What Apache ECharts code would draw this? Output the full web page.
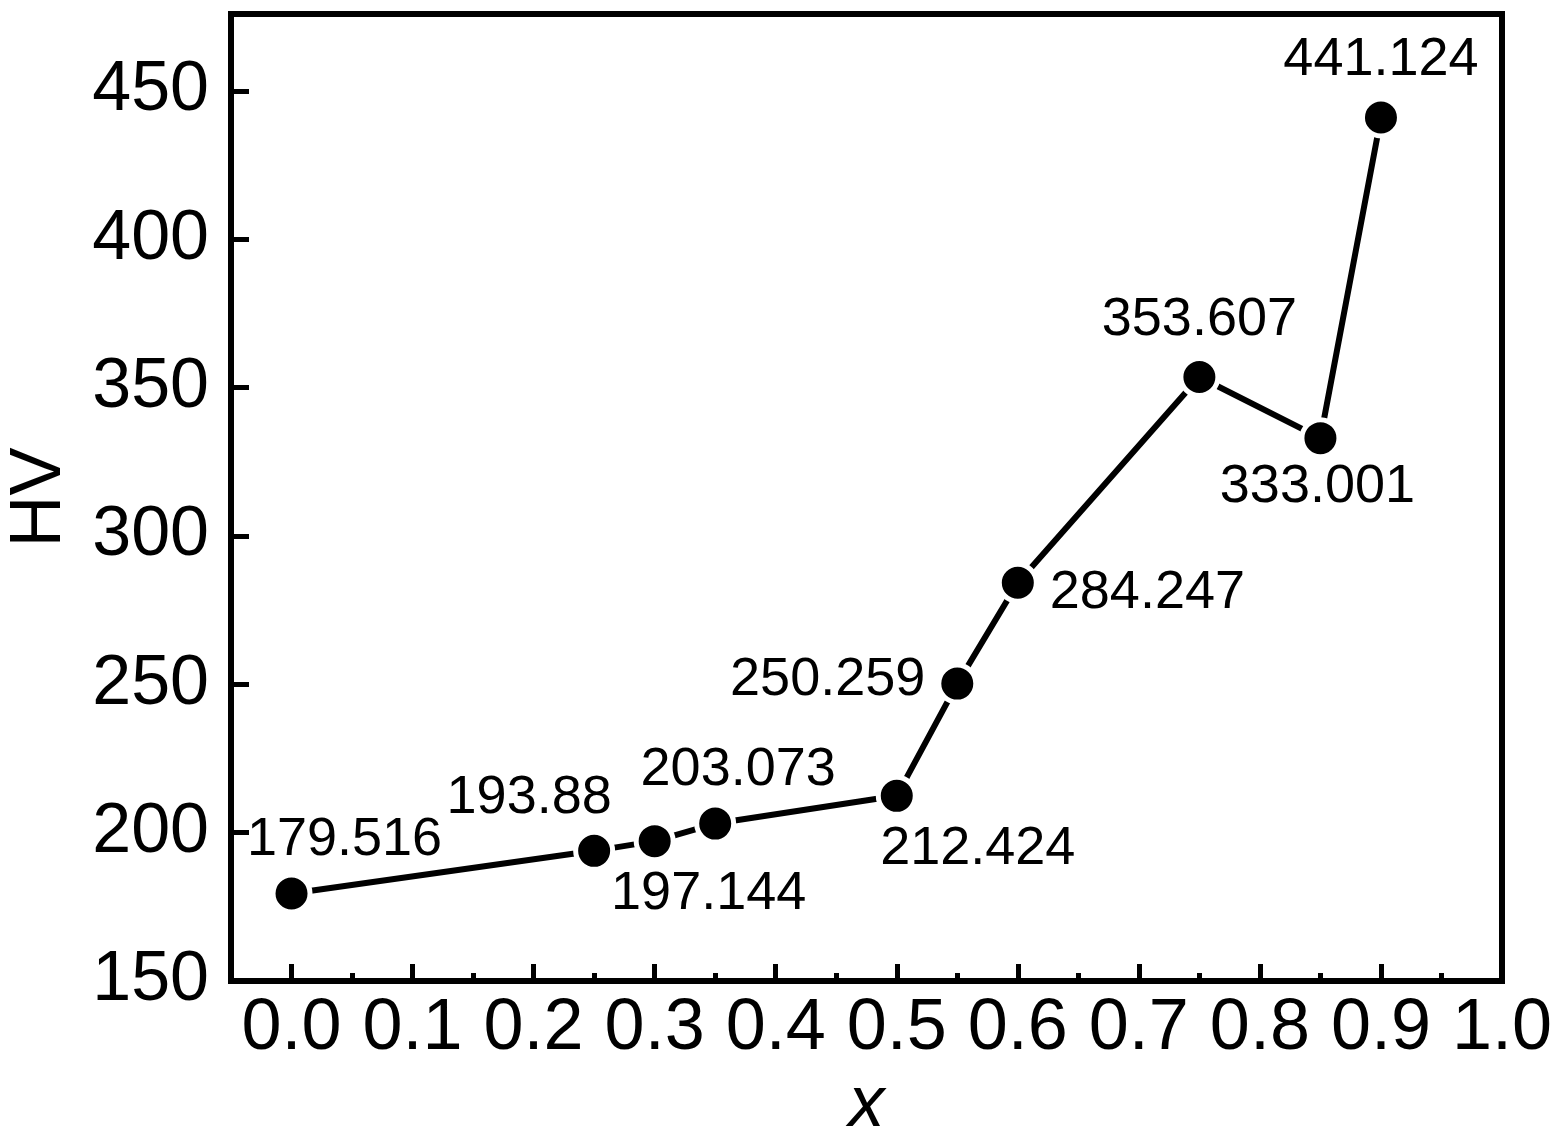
<!DOCTYPE html>
<html>
<head>
<meta charset="utf-8">
<title>HV vs x</title>
<script src="https://cdn.jsdelivr.net/npm/echarts@6/dist/echarts.min.js"></script>
<style>
  html, body { margin: 0; padding: 0; background: #fff; }
  #chart { width: 1560px; height: 1142px; }
</style>
</head>
<body>
<div id="chart"></div>
<script>
// data
var xValues = [0, 0.25, 0.3, 0.35, 0.5, 0.55, 0.6, 0.75, 0.85, 0.9]
var hvValues = [179.516, 193.88, 197.144, 203.073, 212.424, 250.259, 284.247, 353.607, 333.001, 441.124]
var xTicks = [0, 0.1, 0.2, 0.3, 0.4, 0.5, 0.6, 0.7, 0.8, 0.9, 1.0]
var xMinorTicks = [0.05, 0.15, 0.25, 0.35, 0.45, 0.55, 0.65, 0.75, 0.85, 0.95]
var yTicks = [150, 200, 250, 300, 350, 400, 450]

// where each value label sits around its point
var labelPlace = [
  { position: 'top', offset: [53, 0] },
  { position: 'top', offset: [-65, 0] },
  { position: 'bottom', offset: [54, 0] },
  { position: 'top', offset: [23, 0] },
  { position: 'bottom', offset: [81, 0] },
  { position: 'left', offset: [-6, -3] },
  { position: 'right', offset: [6, 10] },
  { position: 'top', offset: [0, -4] },
  { position: 'bottom', offset: [-3, -4] },
  { position: 'top', offset: [0, -4] }
]

var font = '"Liberation Sans", Arial, sans-serif'

var seriesData = xValues.map(function(x, i) {
  return {
    value: [x, hvValues[i]],
    label: labelPlace[i]
  }
})

var chart = echarts.init(document.getElementById('chart'))
chart.setOption({
  animation: false,
  backgroundColor: '#fff',
  grid: {
    left: 231,
    right: 58,
    top: 14,
    bottom: 161,
    outerBoundsMode: 'none',
    containLabel: false,
    show: true,
    borderColor: '#000',
    borderWidth: 6
  },
  xAxis: [{
    type: 'value',
    min: -0.05,
    max: 1.0,
    name: 'x',
    nameLocation: 'middle',
    nameGap: 68,
    nameTextStyle: { fontFamily: font, fontSize: 72, fontStyle: 'italic', color: '#000' },
    axisLine: { show: false, onZero: false },
    splitLine: { show: false },
    axisTick: { show: true, inside: true, length: 17, customValues: xTicks, lineStyle: { color: '#000', width: 5 } },
    axisLabel: {
      customValues: xTicks,
      margin: 12,
      fontFamily: font,
      fontSize: 72,
      color: '#000',
      formatter: function(v) { return v.toFixed(1) }
    }
  }, {
    type: 'value',
    position: 'bottom',
    min: -0.05,
    max: 1.0,
    axisLine: { show: false, onZero: false },
    splitLine: { show: false },
    axisLabel: { show: false },
    axisTick: { show: true, inside: true, length: 8, customValues: xMinorTicks, lineStyle: { color: '#000', width: 5 } }
  }],
  yAxis: {
    type: 'value',
    min: 150,
    max: 476,
    name: 'HV',
    nameLocation: 'middle',
    nameGap: 155,
    nameTextStyle: { fontFamily: font, fontSize: 72, color: '#000' },
    axisLine: { show: false, onZero: false },
    splitLine: { show: false },
    axisTick: { show: true, inside: true, length: 18, customValues: yTicks, lineStyle: { color: '#000', width: 5 } },
    axisLabel: {
      customValues: yTicks,
      margin: 22,
      fontFamily: font,
      fontSize: 70,
      color: '#000'
    }
  },
  series: [{
    type: 'line',
    xAxisIndex: 0,
    data: seriesData,
    symbol: 'circle',
    symbolSize: 37,
    lineStyle: { color: '#000', width: 6 },
    itemStyle: { color: '#000', borderColor: '#fff', borderWidth: 5 },
    label: {
      show: true,
      distance: 5,
      fontFamily: font,
      fontSize: 54,
      color: '#000',
      formatter: function(p) { return String(p.value[1]) }
    }
  }]
})
</script>
</body>
</html>
